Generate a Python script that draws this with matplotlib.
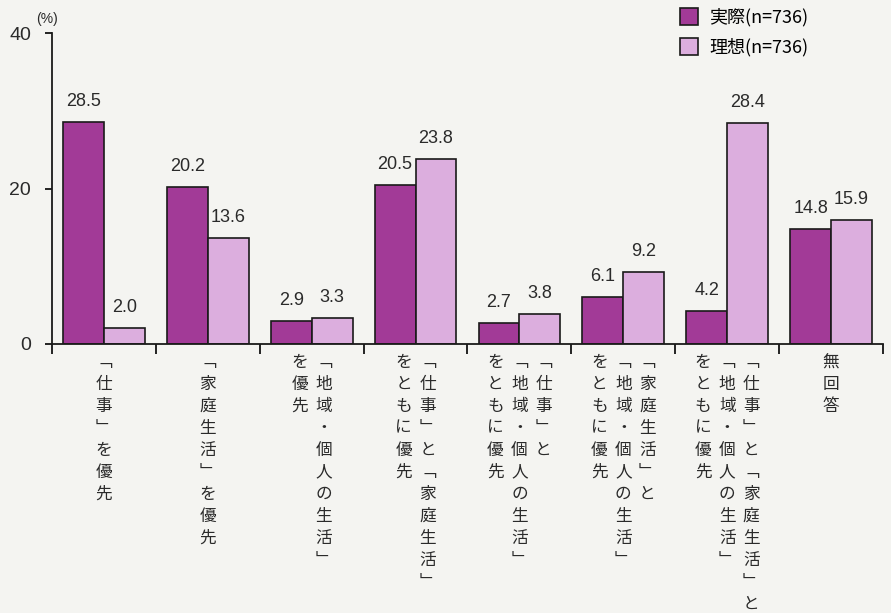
import matplotlib.pyplot as plt
import numpy as np

plt.rcParams['font.family'] = ['Noto Sans CJK JP', 'DejaVu Sans']

# label columns, listed right-to-left as read in vertical Japanese
CATEGORIES = [
    ['「仕事」を優先'],
    ['「家庭生活」を優先'],
    ['「地域・個人の生活」', 'を優先'],
    ['「仕事」と「家庭生活」', 'をともに優先'],
    ['「仕事」と', '「地域・個人の生活」', 'をともに優先'],
    ['「家庭生活」と', '「地域・個人の生活」', 'をともに優先'],
    ['「仕事」と「家庭生活」と', '「地域・個人の生活」', 'をともに優先'],
    ['無回答'],
]
ACTUAL = [28.5, 20.2, 2.9, 20.5, 2.7, 6.1, 4.2, 14.8]
IDEAL = [2.0, 13.6, 3.3, 23.8, 3.8, 9.2, 28.4, 15.9]
SERIES_NAMES = ['実際(n=736)', '理想(n=736)']
YTICKS = [0, 20, 40]

BG = '#f4f4f1'
C_ACTUAL = '#a23a97'
C_IDEAL = '#dcaede'
TXT = '#2a2a2a'
NUM_FONT = ['Liberation Sans Narrow', 'Liberation Sans', 'DejaVu Sans']
VERT = {'「': '\ufe41', '」': '\ufe42'}

fig = plt.figure(figsize=(8.91, 6.13), dpi=100, facecolor=BG)
ax = fig.add_axes([52/891, 1 - 344/613, 831/891, 311/613])
ax.set_facecolor(BG)

x = np.arange(len(CATEGORIES))
w = 0.394
b1 = ax.bar(x - w/2, ACTUAL, w, color=C_ACTUAL, edgecolor='#1a1a1a', linewidth=1.2, label=SERIES_NAMES[0])
b2 = ax.bar(x + w/2, IDEAL, w, color=C_IDEAL, edgecolor='#1a1a1a', linewidth=1.2, label=SERIES_NAMES[1])

for bars, vals in [(b1, ACTUAL), (b2, IDEAL)]:
    for r, v in zip(bars, vals):
        ax.annotate(f'{v:.1f}', (r.get_x() + r.get_width()/2, v), xytext=(0, 12),
                    textcoords='offset pixels', ha='center', va='bottom',
                    fontsize=13, color=TXT, family=NUM_FONT)

ax.set_xlim(-0.5, len(CATEGORIES) - 0.5)
ax.set_ylim(0, 40)
ax.set_yticks(YTICKS)
ax.set_yticklabels([str(t) for t in YTICKS], fontsize=14, color=TXT, family=NUM_FONT)
ax.set_xticks(np.arange(len(CATEGORIES) + 1) - 0.5)
ax.set_xticklabels([])
ax.tick_params(axis='y', direction='out', length=5, width=1.2, pad=10)
ax.tick_params(axis='x', direction='out', length=7, width=1.2)
for s in ['top', 'right']:
    ax.spines[s].set_visible(False)
for s in ['left', 'bottom']:
    ax.spines[s].set_linewidth(1.3)
    ax.spines[s].set_color('#1a1a1a')

ax.text(-5/831, 1 + 14/311, '(%)', transform=ax.transAxes, ha='center', va='center',
        fontsize=10, color=TXT, family=NUM_FONT)

# vertical category labels, one char at a time
col_step = 24
char_step = 22
for i, cols in enumerate(CATEGORIES):
    n = len(cols)
    for j, col in enumerate(cols):
        dx = ((n - 1) / 2 - j) * col_step
        for k, ch in enumerate(col):
            ax.annotate(VERT.get(ch, ch), (i, 0), xytext=(dx, -18 - k * char_step),
                        textcoords='offset pixels', ha='center', va='center',
                        fontsize=12, color=TXT, annotation_clip=False)

leg = ax.legend(loc='upper left', bbox_to_anchor=(628/831, 1 + 25/311), frameon=False,
                fontsize=13, handlelength=1.0, handleheight=1.1, handletextpad=0.6,
                labelspacing=0.6, borderpad=0, borderaxespad=0)

fig.savefig('out.png', dpi=100, facecolor=BG)
